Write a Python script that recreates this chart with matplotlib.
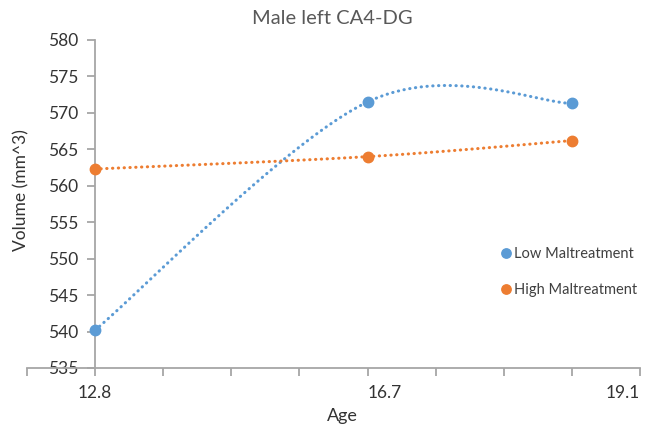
import numpy as np
import matplotlib
matplotlib.use('Agg')
from matplotlib import pyplot as plt

plt.rcParams['font.family'] = ['Lato', 'DejaVu Sans']

# x positions on the category-like axis (tick slots 0..9)
x_pos = [1, 5, 8]
low_vals = [540.2, 571.5, 571.3]
high_vals = [562.3, 564.0, 566.2]

tick_pos = list(range(10))
tick_labels = {1: '12.8', 5: '16.7', 9: '19.1'}

blue = '#5B9BD5'
orange = '#ED7D31'
axis_grey = '#A6A6A6'
text_grey = '#333333'


def smooth(xs, ys, n=60):
    # Catmull-Rom style Bezier smoothing, like spreadsheet "smoothed line"
    pts = np.column_stack([xs, ys]).astype(float)
    out = []
    for i in range(len(pts) - 1):
        p0 = pts[max(i - 1, 0)]
        p1 = pts[i]
        p2 = pts[i + 1]
        p3 = pts[min(i + 2, len(pts) - 1)]
        c1 = p1 + (p2 - p0) / 6
        c2 = p2 - (p3 - p1) / 6
        t = np.linspace(0, 1, n)[:, None]
        seg = ((1 - t) ** 3) * p1 + 3 * ((1 - t) ** 2) * t * c1 \
            + 3 * (1 - t) * t ** 2 * c2 + t ** 3 * p2
        out.append(seg if i == 0 else seg[1:])
    out = np.vstack(out)
    return out[:, 0], out[:, 1]


fig = plt.figure(figsize=(6.51, 4.29), dpi=100)
ax = fig.add_axes([27 / 651, 1 - 368 / 429, (640 - 27) / 651, (368 - 40) / 429])

for vals, col, name in [(low_vals, blue, 'Low Maltreatment'),
                        (high_vals, orange, 'High Maltreatment')]:
    sx, sy = smooth(x_pos, vals)
    ax.plot(sx, sy, color=col, lw=2.2, linestyle=(0, (0.1, 1.8)),
            dash_capstyle='round', clip_on=False)
    ax.plot(x_pos, vals, 'o', color=col, ms=7.5, label=name, clip_on=False, zorder=3)

ax.set_xlim(0, 9)
ax.set_ylim(535, 580)
ax.set_yticks(np.arange(535, 581, 5))
ax.set_xticks(tick_pos)
ax.set_xticklabels([tick_labels.get(t, '') for t in tick_pos])
for t, lab in zip(tick_pos, ax.get_xticklabels()):
    if t == 5:
        lab.set_ha('left')
    elif t == 9:
        lab.set_ha('right')

for s in ['top', 'right']:
    ax.spines[s].set_visible(False)
ax.spines['left'].set_position(('data', 1))
for s in ['left', 'bottom']:
    ax.spines[s].set_color(axis_grey)
    ax.spines[s].set_linewidth(1.3)

ax.tick_params(axis='both', direction='out', length=6, width=1.3, color=axis_grey,
               labelcolor=text_grey, labelsize=12.5)
ax.tick_params(axis='y', pad=6)
ax.tick_params(axis='x', pad=6)

fig.text(0.51, 1 - 18 / 429, 'Male left CA4-DG', ha='center', va='center',
         fontsize=14.5, color='#595959')
fig.text(21 / 651, 1 - 190 / 429, 'Volume (mm^3)', rotation=90, ha='center', va='center',
         fontsize=12.5, color=text_grey)
fig.text(342 / 651, 1 - 416 / 429, 'Age', ha='center', va='center', fontsize=13,
         color=text_grey)

ax.legend(loc='center left', bbox_to_anchor=(486 / 651, 1 - 272 / 429),
          bbox_transform=fig.transFigure, frameon=False, fontsize=10.5,
          labelcolor='#404040', handletextpad=0.05, labelspacing=1.5,
          markerscale=0.9, handlelength=1.0)

fig.savefig('out.png', dpi=100)
